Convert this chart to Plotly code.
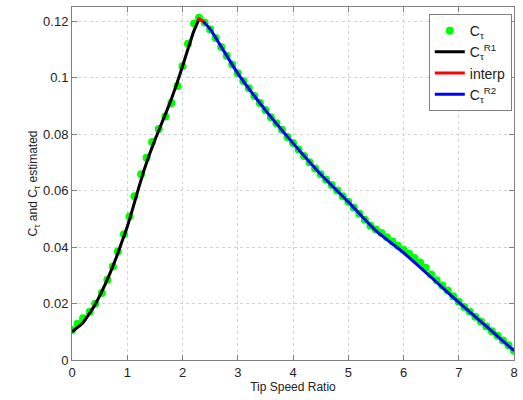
import plotly.graph_objects as go

# Measured C_tau (green dots) - rising branch
tsr_up = [0.0, 0.10, 0.20, 0.32, 0.42, 0.54, 0.64, 0.74, 0.83, 0.94, 1.04, 1.13,
          1.25, 1.35, 1.45, 1.57, 1.69, 1.80, 1.91, 2.00, 2.10, 2.21, 2.30]
ct_up = [0.0106, 0.0128, 0.0148, 0.0171, 0.0199, 0.0237, 0.0284, 0.0331, 0.0384, 0.0445,
         0.0508, 0.0580, 0.0658, 0.0716, 0.0772, 0.0818, 0.0862, 0.0910, 0.0970, 0.1040,
         0.1120, 0.1192, 0.1212]

# Measured C_tau (green dots) - falling branch
tsr_down = [round(2.4 + 0.1 * i, 1) for i in range(0, 57)]
ct_down = [
    0.1195, 0.1170, 0.1140, 0.1108, 0.1077, 0.1046,
    0.1015, 0.0988, 0.0962, 0.0935, 0.0910, 0.0885, 0.0860, 0.0838, 0.0815, 0.0790,
    0.0768, 0.0745, 0.0722, 0.0700, 0.0678, 0.0658, 0.0638, 0.0620, 0.0600, 0.0580,
    0.0560, 0.0540, 0.0518, 0.0497, 0.0475, 0.0462, 0.0450, 0.0435, 0.0420, 0.0405,
    0.0390, 0.0376, 0.0361, 0.0345, 0.0327, 0.0303, 0.0282, 0.0264, 0.0246, 0.0226,
    0.0206, 0.0188, 0.0171, 0.0153, 0.0136, 0.0119, 0.0102, 0.0086, 0.0069, 0.0052,
    0.0033,
]

# Region 1 fit (black)
tsr_r1 = [0.0, 0.2, 0.4, 0.6, 0.8, 1.0, 1.1, 1.2, 1.3, 1.4, 1.5, 1.6, 1.7, 1.8, 1.9, 2.0, 2.1, 2.2, 2.3]
ct_r1 = [0.0100, 0.0132, 0.0190, 0.0268, 0.0362, 0.0472, 0.0537, 0.0605, 0.0670, 0.0727,
         0.0779, 0.0827, 0.0875, 0.0925, 0.0980, 0.1040, 0.1102, 0.1162, 0.1208]

# Interpolation (red)
tsr_int = [2.28, 2.3, 2.4]
ct_int = [0.1200, 0.1208, 0.1196]

# Region 2 fit (blue)
tsr_r2 = [2.38, 2.5, 3.0, 3.5, 4.0, 4.5, 5.0, 5.5, 6.0, 6.5, 7.0, 7.5, 8.0]
ct_r2 = [0.1198, 0.1172, 0.1015, 0.0885, 0.0768, 0.0658, 0.0560, 0.0458, 0.0380, 0.0293, 0.0204, 0.0119, 0.0033]

x_ticks = [0, 1, 2, 3, 4, 5, 6, 7, 8]
y_ticks = [0, 0.02, 0.04, 0.06, 0.08, 0.1, 0.12]
y_tick_text = ["0", "0.02", "0.04", "0.06", "0.08", "0.1", "0.12"]

FONT = "Liberation Sans, Arial"

fig = go.Figure()
fig.add_trace(go.Scatter(x=tsr_up + tsr_down, y=ct_up + ct_down, mode="markers", name="C<sub>τ</sub>",
                         marker=dict(color="#00ff00", size=8, line=dict(width=0))))
fig.add_trace(go.Scatter(x=tsr_r1, y=ct_r1, mode="lines", name="C<sub>τ</sub><sup>R1</sup>",
                         line=dict(color="black", width=3, shape="spline", smoothing=0.3)))
fig.add_trace(go.Scatter(x=tsr_int, y=ct_int, mode="lines", name="interp",
                         line=dict(color="red", width=3)))
fig.add_trace(go.Scatter(x=tsr_r2, y=ct_r2, mode="lines", name="C<sub>τ</sub><sup>R2</sup>",
                         line=dict(color="blue", width=3, shape="spline", smoothing=0.6)))

axis_common = dict(
    showline=True, linecolor="#808080", linewidth=1, mirror="ticks",
    ticks="inside", ticklen=5, tickcolor="#808080",
    showgrid=True, gridcolor="#d4d4d4", griddash="dot", gridwidth=1,
    zeroline=False, tickfont=dict(family=FONT, size=13, color="#222"),
)

fig.update_xaxes(range=[0, 8], tickvals=x_ticks,
                 title=dict(text="Tip Speed Ratio", font=dict(family=FONT, size=12, color="#222"), standoff=4),
                 **axis_common)
fig.update_yaxes(range=[0, 0.125], tickvals=y_ticks, ticktext=y_tick_text,
                 title=dict(text="C<sub>τ</sub> and C<sub>τ</sub> estimated",
                            font=dict(family=FONT, size=12, color="#222"), standoff=2),
                 **axis_common)

fig.update_layout(
    width=523, height=400,
    margin=dict(l=72, r=5, t=7, b=40),
    plot_bgcolor="white", paper_bgcolor="white",
    legend=dict(x=0.995, y=0.98, xanchor="right", yanchor="top",
                bgcolor="white", bordercolor="#808080", borderwidth=1,
                font=dict(family=FONT, size=14, color="#222")),
)

fig.write_html("out.html")
